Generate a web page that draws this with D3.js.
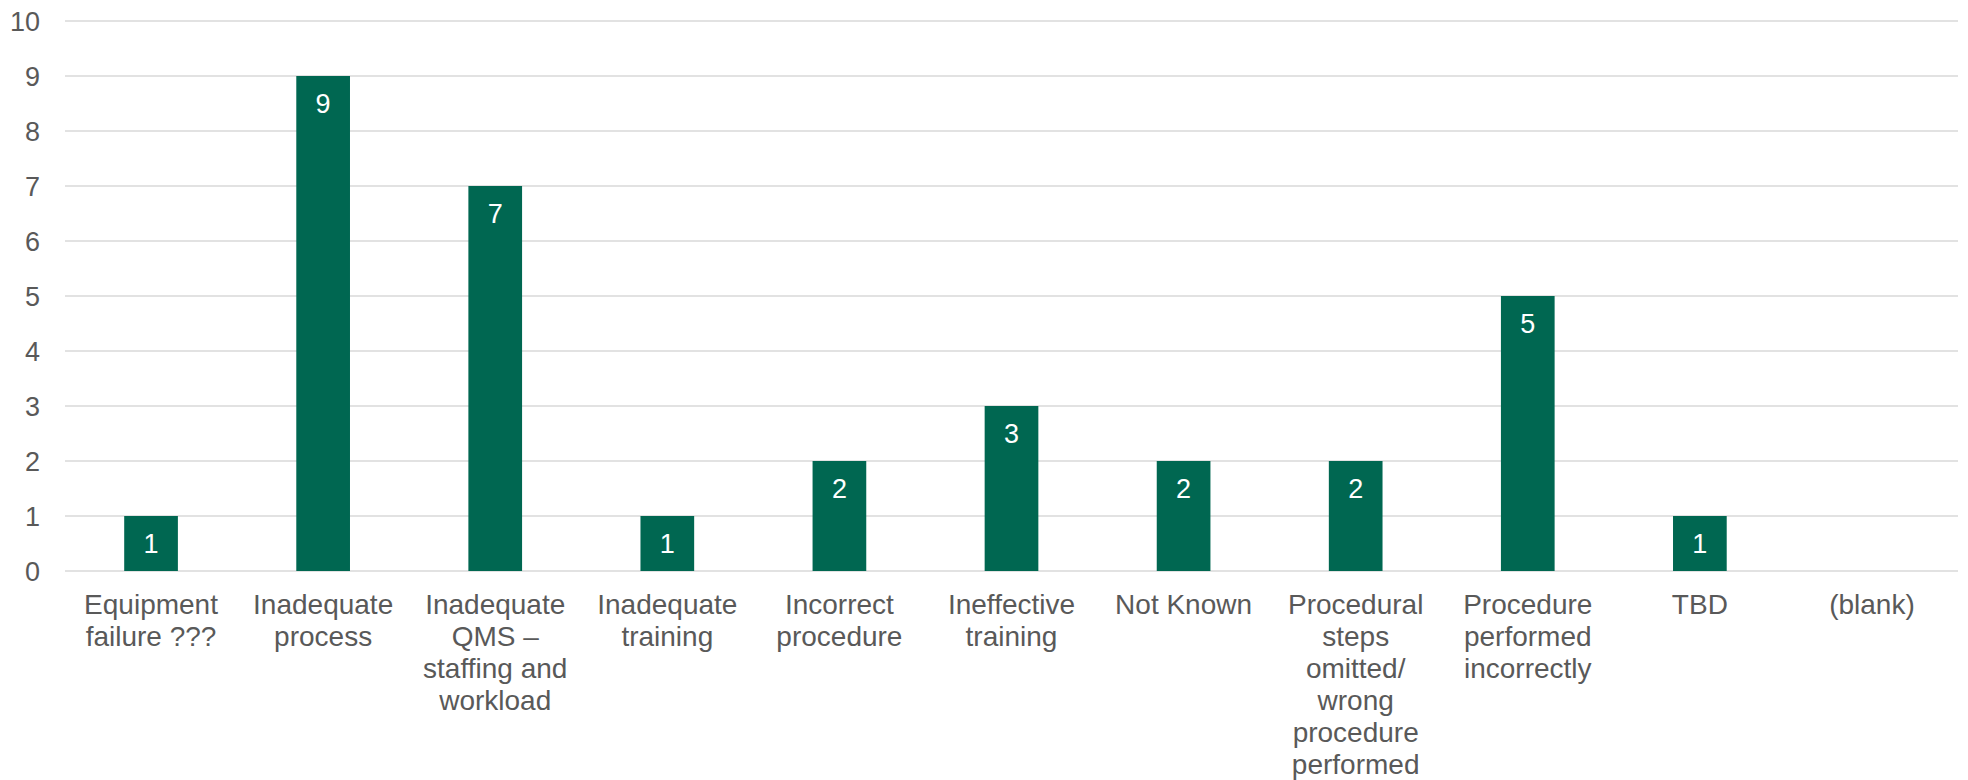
<!DOCTYPE html>
<html>
<head>
<meta charset="utf-8">
<script src="https://cdn.jsdelivr.net/npm/d3@7"></script>
<style>
  html, body { margin: 0; padding: 0; background: #ffffff; }
  svg { display: block; font-family: "Liberation Sans", Arial, sans-serif; }
</style>
</head>
<body>
<svg id="chart" width="1968" height="780"></svg>
<script>
// Root-cause categories and counts
const categories = [
  "Equipment failure ???",
  "Inadequate process",
  "Inadequate QMS \u2013 staffing and workload",
  "Inadequate training",
  "Incorrect procedure",
  "Ineffective training",
  "Not Known",
  "Procedural steps omitted/ wrong procedure performed",
  "Procedure performed incorrectly",
  "TBD",
  "(blank)"
];
const counts = [1, 9, 7, 1, 2, 3, 2, 2, 5, 1, null];
const yTicks = [0, 1, 2, 3, 4, 5, 6, 7, 8, 9, 10];

const svg = d3.select("#chart");
const margin = { left: 65, right: 10, top: 21, bottom: 209 };
const width = 1968, height = 780;

const x = d3.scaleBand()
  .domain(categories)
  .range([margin.left, width - margin.right])
  .padding(0);

const y = d3.scaleLinear()
  .domain([0, 10])
  .range([height - margin.bottom, margin.top]);

const barW = x.bandwidth() * 0.312;
const textColor = "#595959";

// Horizontal gridlines
svg.append("g")
  .selectAll("line")
  .data(yTicks)
  .join("line")
  .attr("x1", margin.left)
  .attr("x2", width - margin.right)
  .attr("y1", d => y(d))
  .attr("y2", d => y(d))
  .attr("stroke", "#d9d9d9")
  .attr("stroke-width", 1.5);

// Y axis labels
const yAxis = d3.axisLeft(y).tickValues(yTicks).tickSize(0).tickPadding(25);
svg.append("g")
  .attr("transform", `translate(${margin.left},0)`)
  .call(yAxis)
  .call(g => g.select(".domain").remove())
  .call(g => g.selectAll("text")
    .attr("fill", textColor)
    .attr("font-size", 27)
    .attr("font-family", "'Liberation Sans', Arial, sans-serif")
    .attr("dy", "0.36em"));

// Bars
const barData = categories.map((c, i) => ({ c, v: counts[i] })).filter(d => d.v != null);
svg.append("g")
  .selectAll("rect")
  .data(barData)
  .join("rect")
  .attr("x", d => x(d.c) + x.bandwidth() / 2 - barW / 2)
  .attr("width", barW)
  .attr("y", d => y(d.v))
  .attr("height", d => y(0) - y(d.v))
  .attr("fill", "#006751");

// Value labels inside the top of each bar
svg.append("g")
  .selectAll("text")
  .data(barData)
  .join("text")
  .attr("x", d => x(d.c) + x.bandwidth() / 2)
  .attr("y", d => y(d.v) + 36.5)
  .attr("text-anchor", "middle")
  .attr("fill", "#ffffff")
  .attr("font-size", 27)
  .text(d => d.v);

// Category labels, wrapped to the band width
const maxLineW = 170;
const lineH = 32;
const labelG = svg.append("g");
categories.forEach(c => {
  const cx = x(c) + x.bandwidth() / 2;
  const t = labelG.append("text")
    .attr("x", cx)
    .attr("y", 614)
    .attr("text-anchor", "middle")
    .attr("fill", textColor)
    .attr("font-size", 28);
  const words = c.split(" ");
  let line = [];
  let tspan = t.append("tspan").attr("x", cx).attr("dy", 0);
  words.forEach(w => {
    line.push(w);
    tspan.text(line.join(" "));
    if (tspan.node().getComputedTextLength() > maxLineW && line.length > 1) {
      line.pop();
      tspan.text(line.join(" "));
      line = [w];
      tspan = t.append("tspan")
        .attr("x", cx)
        .attr("dy", lineH)
        .text(w);
    }
  });
});
</script>
</body>
</html>
